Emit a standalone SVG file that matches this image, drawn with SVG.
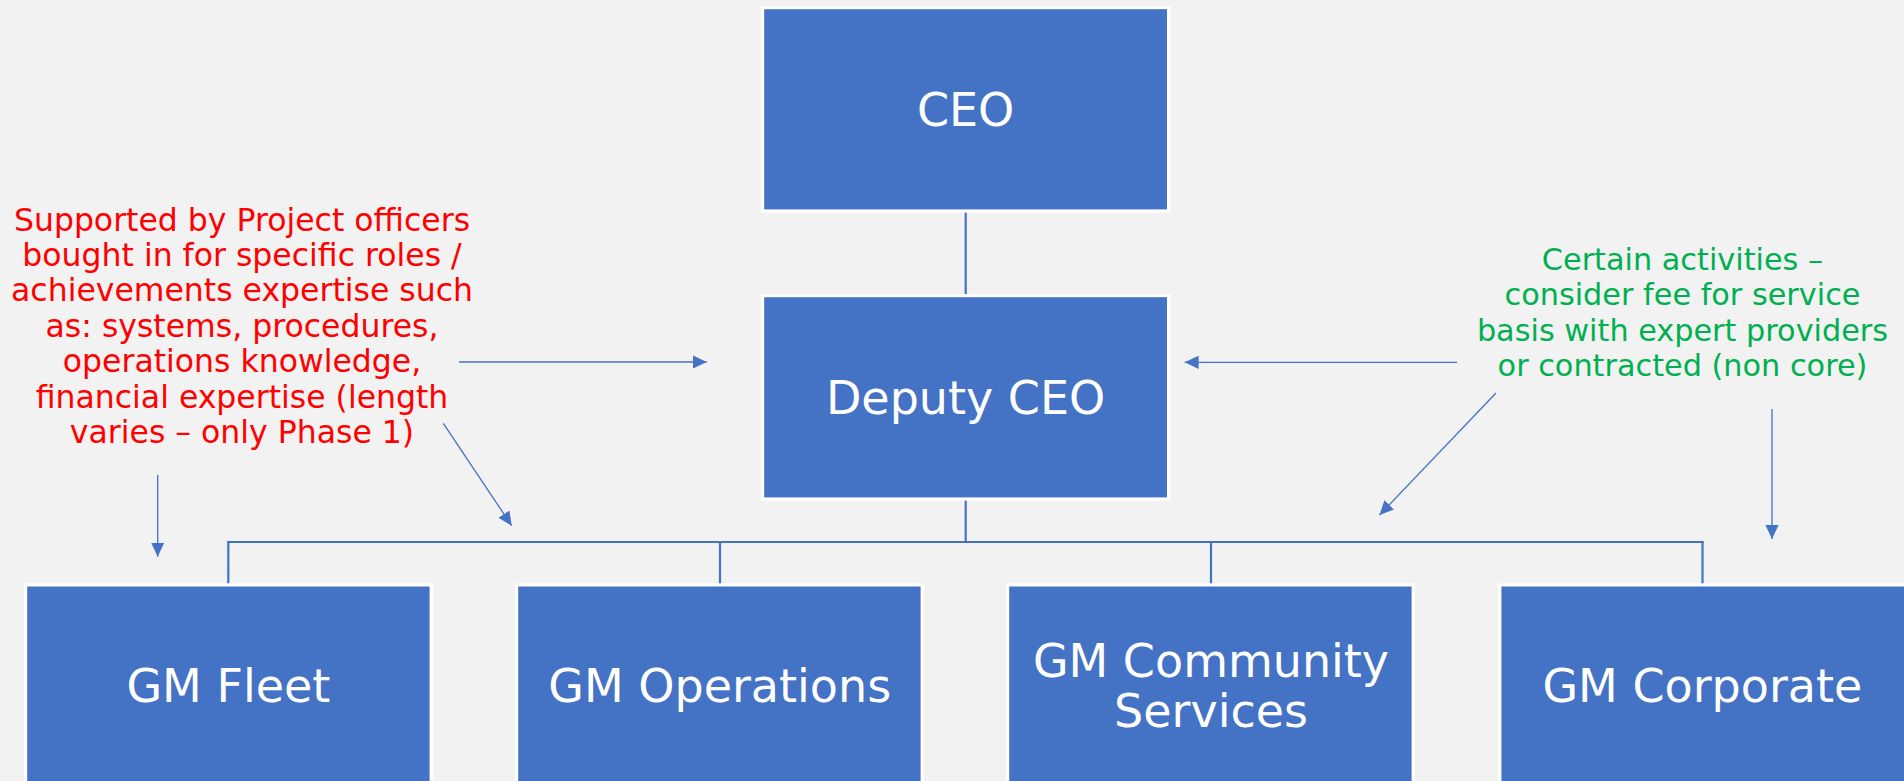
<svg xmlns="http://www.w3.org/2000/svg" width="1904" height="781" viewBox="0 0 1904 781">
<style>
.box{fill:#4472C4;stroke:#FFFFFF;stroke-width:3.2}
.lbl{font-family:"DejaVu Sans","Liberation Sans",sans-serif;font-size:46px;fill:#FFFFFF;text-anchor:middle}
.bus{stroke:#4472C4;stroke-width:2.2;fill:none}
.arr{stroke:#4472C4;stroke-width:1.3;fill:none;marker-end:url(#ah)}
.red{font-family:"DejaVu Sans","Liberation Sans",sans-serif;font-size:31.5px;fill:#FF0000;text-anchor:middle}
.green{font-family:"DejaVu Sans","Liberation Sans",sans-serif;font-size:30.3px;fill:#00B050;text-anchor:middle}
</style>
<defs>
<marker id="ah" markerUnits="userSpaceOnUse" markerWidth="15" markerHeight="14" refX="14" refY="6.6" orient="auto" viewBox="0 0 15 14">
<path d="M0,0 L14,6.6 L0,13.2 z" fill="#4472C4"/>
</marker>
</defs>
<rect width="1904" height="781" fill="#F2F2F2"/>
<g id="connectors">
<line class="bus" x1="965.7" y1="212" x2="965.7" y2="295"/>
<line class="bus" x1="965.7" y1="500" x2="965.7" y2="542"/>
<line class="bus" x1="227.2" y1="542" x2="1703.6" y2="542"/>
<line class="bus" x1="228.3" y1="541" x2="228.3" y2="584"/>
<line class="bus" x1="720" y1="541" x2="720" y2="584"/>
<line class="bus" x1="1211" y1="541" x2="1211" y2="584"/>
<line class="bus" x1="1702.5" y1="541" x2="1702.5" y2="584"/>
<line class="arr" x1="459" y1="362" x2="706.7" y2="362"/>
<line class="arr" x1="157.7" y1="475" x2="157.7" y2="556.7"/>
<line class="arr" x1="443.3" y1="423.3" x2="511.7" y2="525.7"/>
<line class="arr" x1="1457" y1="362.3" x2="1184.6" y2="362.3"/>
<line class="arr" x1="1496" y1="393" x2="1379.5" y2="515"/>
<line class="arr" x1="1772" y1="409" x2="1772" y2="539"/>
</g>
<g id="ceo">
<rect class="box" x="762.6" y="7.6" width="406" height="203.4"/>
<text class="lbl" x="965.6" y="125.5">CEO</text>
</g>
<g id="deputy-ceo">
<rect class="box" x="762.6" y="295.6" width="406" height="203.4"/>
<text class="lbl" x="965.6" y="413.5">Deputy CEO</text>
</g>
<g id="gm-fleet">
<rect class="box" x="25.6" y="584.9" width="405.6" height="230"/>
<text class="lbl" x="228.4" y="702.3">GM Fleet</text>
</g>
<g id="gm-operations">
<rect class="box" x="516.6" y="584.9" width="405.6" height="230"/>
<text class="lbl" x="719.7" y="702.3">GM Operations</text>
</g>
<g id="gm-community-services">
<rect class="box" x="1007.6" y="584.9" width="405.6" height="230"/>
<text class="lbl" x="1211" y="676.7">GM Community</text>
<text class="lbl" x="1211" y="726.7">Services</text>
</g>
<g id="gm-corporate">
<rect class="box" x="1499.8" y="584.9" width="414" height="230"/>
<text class="lbl" x="1702.4" y="702.3">GM Corporate</text>
</g>
<g id="note-project-officers">
<text class="red" x="242" y="230.5">Supported by Project officers</text>
<text class="red" x="242" y="265.9">bought in for specific roles /</text>
<text class="red" x="242" y="301.3">achievements expertise such</text>
<text class="red" x="242" y="336.7">as: systems, procedures,</text>
<text class="red" x="242" y="372.1">operations knowledge,</text>
<text class="red" x="242" y="407.5">financial expertise (length</text>
<text class="red" x="242" y="442.9">varies – only Phase 1)</text>
</g>
<g id="note-fee-for-service">
<text class="green" x="1682.5" y="270">Certain activities –</text>
<text class="green" x="1682.5" y="305.3">consider fee for service</text>
<text class="green" x="1682.5" y="340.6">basis with expert providers</text>
<text class="green" x="1682.5" y="376">or contracted (non core)</text>
</g>
</svg>
